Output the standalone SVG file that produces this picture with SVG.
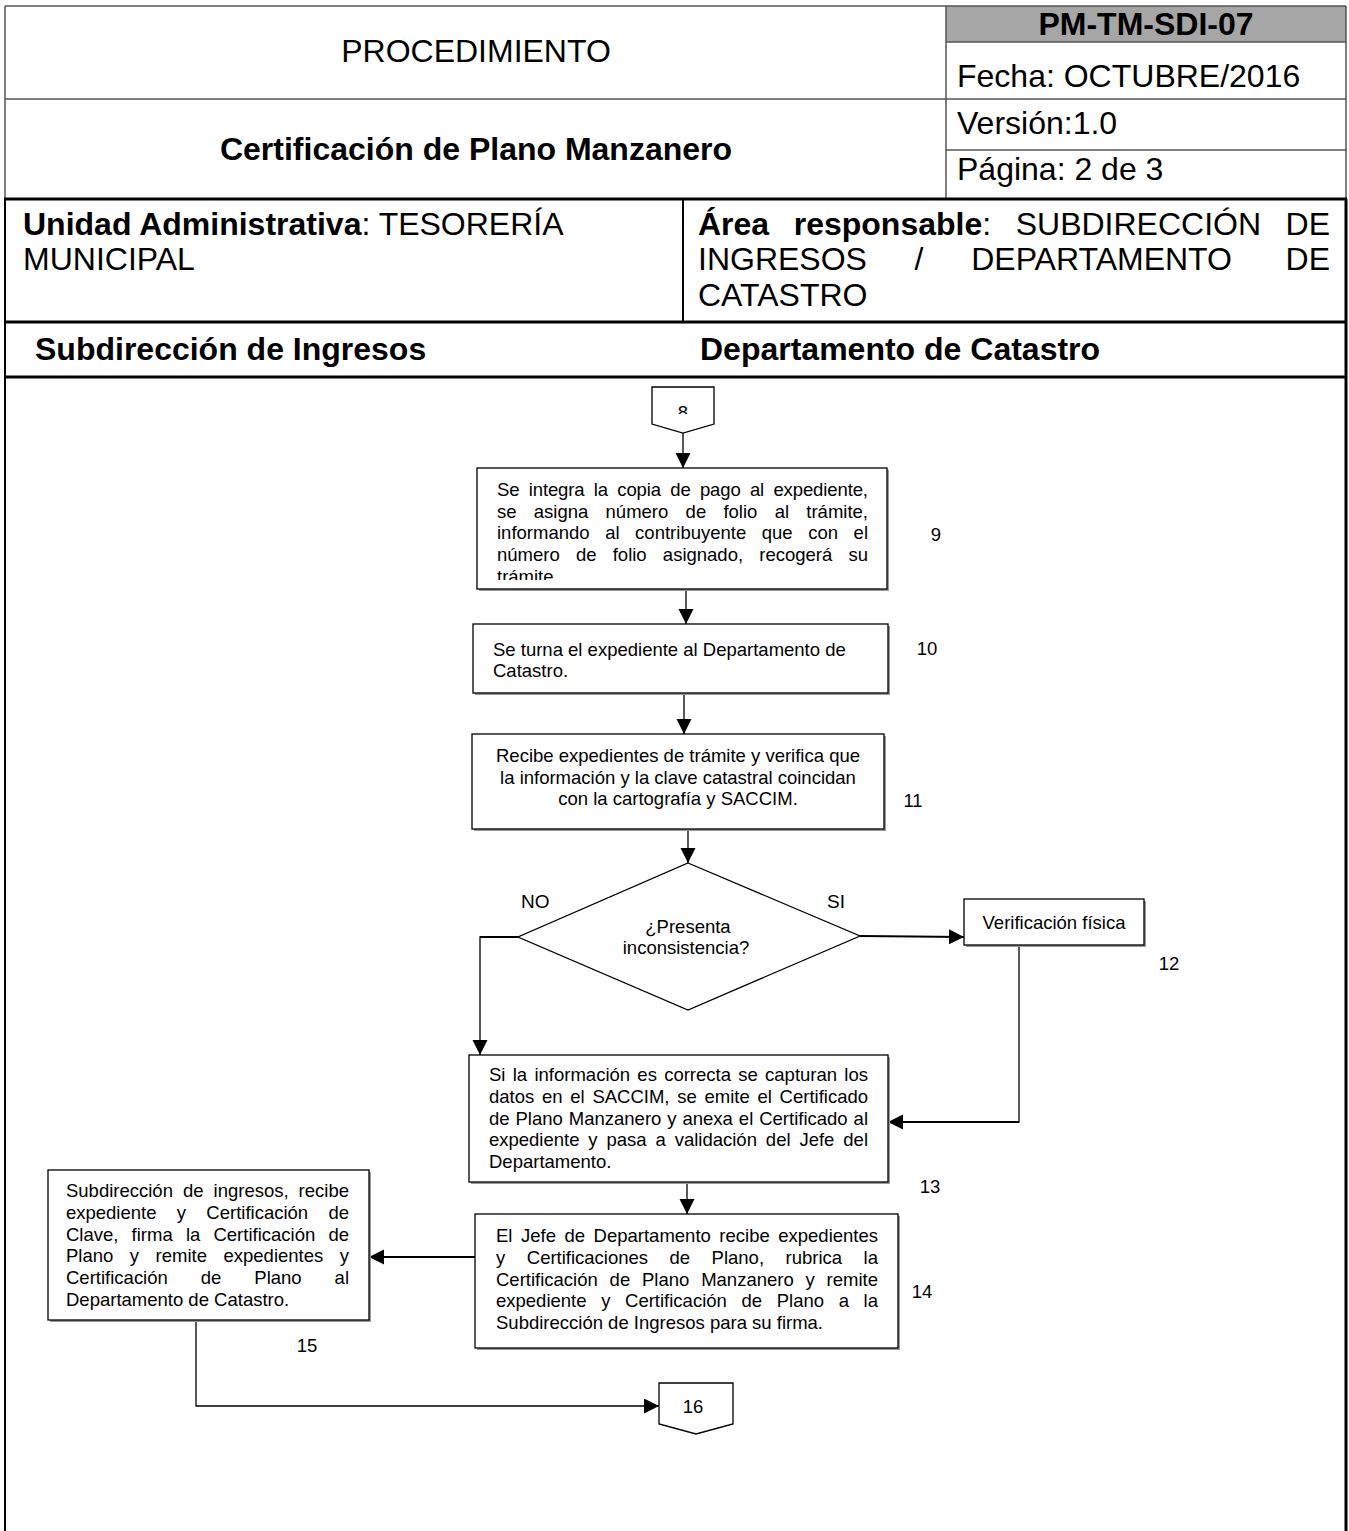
<svg xmlns="http://www.w3.org/2000/svg" width="1349" height="1531" viewBox="0 0 1349 1531">
<style>
  .t { font-family: "Liberation Sans", Arial, sans-serif; fill: #000; }
  .h { font-size: 32px; }
  .b { font-weight: bold; }
  .s { font-size: 18.5px; }
  .g { fill: none; stroke: #555; stroke-width: 1.5; }
  .k { fill: none; stroke: #000; stroke-width: 3; }
  .box { fill: #fff; stroke: #000; stroke-width: 1.3; }
  .sh { fill: #9a9a9a; }
  .ln { fill: none; stroke: #000; stroke-width: 1.3; }
  .lb { fill: none; stroke: #000; stroke-width: 2.2; }
</style>
<defs>
  <marker id="ah" markerUnits="userSpaceOnUse" markerWidth="16" markerHeight="16" refX="15" refY="7.5" orient="auto" viewBox="0 0 16 16">
    <path d="M0,0 L15,7.5 L0,15 z" fill="#000"/>
  </marker>
  <clipPath id="c8"><rect x="650" y="395" width="70" height="19"/></clipPath>
  <clipPath id="c9"><rect x="477" y="560" width="410" height="20"/></clipPath>
</defs>
<rect width="1349" height="1531" fill="#fff"/>

<g id="header">
  <rect x="946" y="6" width="400" height="36" fill="#a6a6a6"/>
  <line class="g" x1="5" y1="6" x2="1346" y2="6"/>
  <line class="g" x1="946" y1="42" x2="1346" y2="42"/>
  <line class="g" x1="5" y1="99" x2="1346" y2="99"/>
  <line class="g" x1="946" y1="150" x2="1346" y2="150"/>
  <line class="g" x1="946" y1="6" x2="946" y2="199"/>
  <line class="g" x1="5" y1="6" x2="5" y2="199"/>
  <line class="g" x1="1346" y1="6" x2="1346" y2="199"/>
  <line class="k" x1="4" y1="199" x2="1347" y2="199"/>
  <line class="k" x1="4" y1="322" x2="1347" y2="322"/>
  <line class="k" x1="4" y1="377" x2="1347" y2="377"/>
  <line stroke="#000" stroke-width="2" x1="683" y1="199" x2="683" y2="322"/>
  <line stroke="#000" stroke-width="2" x1="5" y1="199" x2="5" y2="1531"/>
  <line stroke="#000" stroke-width="3" x1="1346" y1="199" x2="1346" y2="1531"/>
  <text class="t h" x="476" y="62" text-anchor="middle">PROCEDIMIENTO</text>
  <text class="t h b" x="476" y="160" text-anchor="middle">Certificación de Plano Manzanero</text>
  <text class="t h b" x="1146" y="35" text-anchor="middle">PM-TM-SDI-07</text>
  <text class="t h" x="957" y="87">Fecha: OCTUBRE/2016</text>
  <text class="t h" x="957" y="134">Versión:1.0</text>
  <text class="t h" x="957" y="180">Página: 2 de 3</text>
  <text class="t h" x="23" y="235"><tspan class="b">Unidad Administrativa</tspan>: TESORERÍA</text>
  <text class="t h" x="23" y="270">MUNICIPAL</text>
  <text class="t h" y="235"><tspan class="b" x="698">Área</tspan><tspan class="b" x="793.7">responsable</tspan><tspan x="982.2">:</tspan><tspan x="1015.7">SUBDIRECCIÓN</tspan></text>
  <text class="t h" x="1330" y="235" text-anchor="end">DE</text>
  <text class="t h" y="270"><tspan x="698">INGRESOS</tspan><tspan x="914.6">/</tspan><tspan x="971.2">DEPARTAMENTO</tspan></text>
  <text class="t h" x="1330" y="270" text-anchor="end">DE</text>
  <text class="t h" x="698" y="306">CATASTRO</text>
  <text class="t h b" x="35" y="360">Subdirección de Ingresos</text>
  <text class="t h b" x="700" y="360">Departamento de Catastro</text>
</g>

<g id="connectors">
  <line class="ln" x1="683" y1="433" x2="683" y2="468" marker-end="url(#ah)"/>
  <line class="ln" x1="686" y1="589" x2="686" y2="624" marker-end="url(#ah)"/>
  <line class="ln" x1="684" y1="693" x2="684" y2="734" marker-end="url(#ah)"/>
  <line class="ln" x1="688" y1="829" x2="688" y2="863" marker-end="url(#ah)"/>
  <line class="lb" x1="860" y1="936" x2="964" y2="937" marker-end="url(#ah)"/>
  <polyline class="ln" points="518,937 480,937 480,1055" marker-end="url(#ah)"/>
  <line class="lb" x1="518" y1="937" x2="480" y2="937"/>
  <polyline class="ln" points="1019,945 1019,1122 940,1122"/>
  <line class="lb" x1="1019" y1="1122" x2="888" y2="1122" marker-end="url(#ah)"/>
  <line class="ln" x1="687" y1="1182" x2="687" y2="1214" marker-end="url(#ah)"/>
  <line class="lb" x1="475" y1="1257" x2="369" y2="1257" marker-end="url(#ah)"/>
  <polyline class="ln" points="196,1320 196,1406 659,1406" marker-end="url(#ah)"/>
</g>

<g id="n8">
  <polygon class="box" points="652,387 714,387 714,424 683,433 652,424"/>
  <text class="t s" x="683" y="419" text-anchor="middle" clip-path="url(#c8)">8</text>
</g>

<g id="n9">
  <rect class="sh" x="479" y="470" width="410" height="121"/>
  <rect class="box" x="477" y="468" width="410" height="121"/>
  <text class="t s" x="497" y="496" word-spacing="4.25" textLength="371" lengthAdjust="spacing">Se integra la copia de pago al expediente,</text>
  <text class="t s" x="497" y="517.5" word-spacing="12.1" textLength="371" lengthAdjust="spacing">se asigna número de folio al trámite,</text>
  <text class="t s" x="497" y="539" word-spacing="10.4" textLength="371" lengthAdjust="spacing">informando al contribuyente que con el</text>
  <text class="t s" x="497" y="561" word-spacing="11.1" textLength="371" lengthAdjust="spacing">número de folio asignado, recogerá su</text>
  <text class="t s" x="497" y="583" clip-path="url(#c9)">trámite</text>
  <text class="t s" x="936" y="541" text-anchor="middle">9</text>
</g>

<g id="n10">
  <rect class="sh" x="475" y="626" width="415" height="69"/>
  <rect class="box" x="473" y="624" width="415" height="69"/>
  <text class="t s" x="493" y="656">Se turna el expediente al Departamento de</text>
  <text class="t s" x="493" y="677">Catastro.</text>
  <text class="t s" x="927" y="655" text-anchor="middle">10</text>
</g>

<g id="n11">
  <rect class="sh" x="474" y="736" width="412" height="95"/>
  <rect class="box" x="472" y="734" width="412" height="95"/>
  <text class="t s" x="678" y="762" text-anchor="middle">Recibe expedientes de trámite y verifica que</text>
  <text class="t s" x="678" y="783.5" text-anchor="middle">la información y la clave catastral coincidan</text>
  <text class="t s" x="678" y="805" text-anchor="middle">con la cartografía y SACCIM.</text>
  <text class="t s" x="913" y="807" text-anchor="middle">11</text>
</g>

<g id="decision">
  <polygon class="box" points="688,863 860,936 688,1010 518,937"/>
  <text class="t s" x="688" y="933" text-anchor="middle">¿Presenta</text>
  <text class="t s" x="686" y="954" text-anchor="middle">inconsistencia?</text>
  <text class="t" font-size="19" x="521" y="908">NO</text>
  <text class="t" font-size="19" x="827" y="908">SI</text>
</g>

<g id="n12">
  <rect class="sh" x="966" y="901" width="180" height="46"/>
  <rect class="box" x="964" y="899" width="180" height="46"/>
  <text class="t s" x="1054" y="929" text-anchor="middle">Verificación física</text>
  <text class="t s" x="1169" y="970" text-anchor="middle">12</text>
</g>

<g id="n13">
  <rect class="sh" x="471" y="1057" width="419" height="127"/>
  <rect class="box" x="469" y="1055" width="419" height="127"/>
  <text class="t s" x="489" y="1081" word-spacing="2.1" textLength="379" lengthAdjust="spacing">Si la información es correcta se capturan los</text>
  <text class="t s" x="489" y="1103" word-spacing="2.6" textLength="379" lengthAdjust="spacing">datos en el SACCIM, se emite el Certificado</text>
  <text class="t s" x="489" y="1124.5" word-spacing="0.8" textLength="379" lengthAdjust="spacing">de Plano Manzanero y anexa el Certificado al</text>
  <text class="t s" x="489" y="1146" word-spacing="3.8" textLength="379" lengthAdjust="spacing">expediente y pasa a validación del Jefe del</text>
  <text class="t s" x="489" y="1168">Departamento.</text>
  <text class="t s" x="930" y="1193" text-anchor="middle">13</text>
</g>

<g id="n14">
  <rect class="sh" x="477" y="1216" width="423" height="134"/>
  <rect class="box" x="475" y="1214" width="423" height="134"/>
  <text class="t s" x="496" y="1242" word-spacing="3.4" textLength="382" lengthAdjust="spacing">El Jefe de Departamento recibe expedientes</text>
  <text class="t s" x="496" y="1264" word-spacing="16.4" textLength="382" lengthAdjust="spacing">y Certificaciones de Plano, rubrica la</text>
  <text class="t s" x="496" y="1285.5" word-spacing="6.7" textLength="382" lengthAdjust="spacing">Certificación de Plano Manzanero y remite</text>
  <text class="t s" x="496" y="1307" word-spacing="9.5" textLength="382" lengthAdjust="spacing">expediente y Certificación de Plano a la</text>
  <text class="t s" x="496" y="1329">Subdirección de Ingresos para su firma.</text>
  <text class="t s" x="922" y="1298" text-anchor="middle">14</text>
</g>

<g id="n15">
  <rect class="sh" x="50" y="1172" width="321" height="150"/>
  <rect class="box" x="48" y="1170" width="321" height="150"/>
  <text class="t s" x="66" y="1197" word-spacing="4.9" textLength="283" lengthAdjust="spacing">Subdirección de ingresos, recibe</text>
  <text class="t s" x="66" y="1219" word-spacing="15.2" textLength="283" lengthAdjust="spacing">expediente y Certificación de</text>
  <text class="t s" x="66" y="1240.5" word-spacing="8.0" textLength="283" lengthAdjust="spacing">Clave, firma la Certificación de</text>
  <text class="t s" x="66" y="1262" word-spacing="11.4" textLength="283" lengthAdjust="spacing">Plano y remite expedientes y</text>
  <text class="t s" x="66" y="1284" word-spacing="27.8" textLength="283" lengthAdjust="spacing">Certificación de Plano al</text>
  <text class="t s" x="66" y="1305.5">Departamento de Catastro.</text>
  <text class="t s" x="307" y="1352" text-anchor="middle">15</text>
</g>

<g id="n16">
  <polygon class="box" points="659,1383 733,1383 733,1424 696,1434 659,1424"/>
  <text class="t s" x="693" y="1413" text-anchor="middle">16</text>
</g>
</svg>
